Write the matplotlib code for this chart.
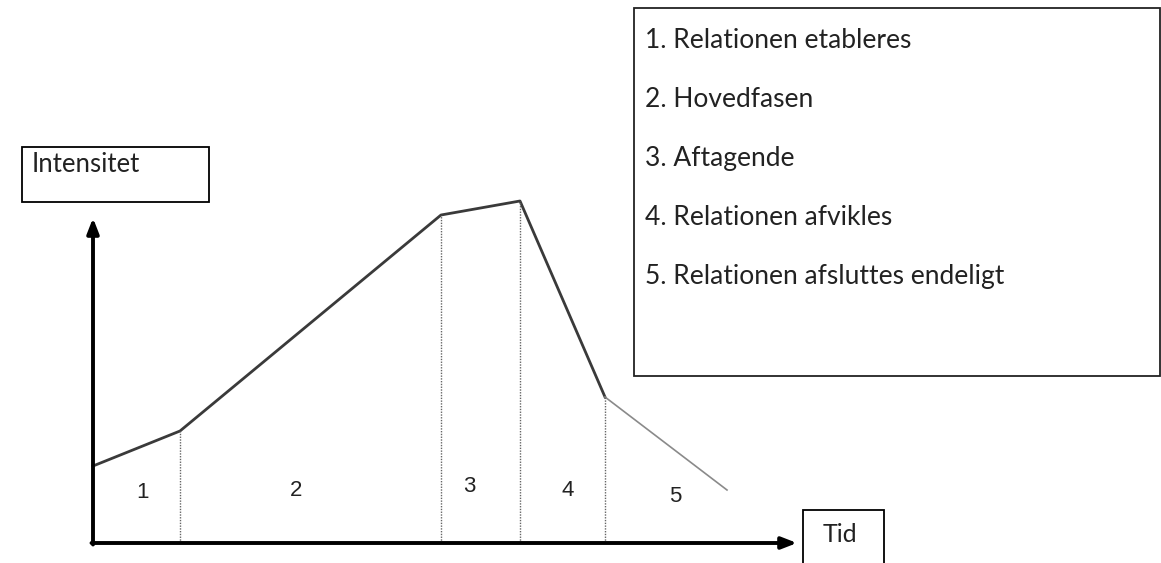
import matplotlib.pyplot as plt
from matplotlib.patches import Rectangle

# phase model: time vs intensity (units relative to the axis origin)
time = [0, 87, 348, 427, 512, 634]
intensity = [77, 112, 328, 342, 146, 53]
phase_labels = ["1", "2", "3", "4", "5"]
label_time = [50, 203, 376, 475, 582]
label_height = [50, 53, 56, 53, 46]
legend_items = ["1. Relationen etableres", "2. Hovedfasen", "3. Aftagende",
                "4. Relationen afvikles", "5. Relationen afsluttes endeligt"]

fig = plt.figure(figsize=(11.61, 5.63), dpi=100)
ax = fig.add_axes([0, 0, 1, 1])
ax.set_xlim(-93, 1068)
ax.set_ylim(-20, 543)
ax.axis("off")

# axes arrows
ax.annotate("", xy=(0, 325), xytext=(0, -1.5),
            arrowprops=dict(arrowstyle="-|>,head_length=0.9,head_width=0.35", lw=2.8, color="black",
                            shrinkA=0, shrinkB=0))
ax.annotate("", xy=(704, 0), xytext=(-1.5, 0),
            arrowprops=dict(arrowstyle="-|>,head_length=0.9,head_width=0.35", lw=2.8, color="black",
                            shrinkA=0, shrinkB=0))

# curve (last phase lighter)
ax.plot(time[:-1], intensity[:-1], color="#3a3a3a", lw=2)
ax.plot(time[-2:], intensity[-2:], color="#8a8a8a", lw=1.2)

# dotted phase dividers
for t, v in zip(time[1:-1], intensity[1:-1]):
    ax.plot([t, t], [0, v], color="#666666", lw=1, ls=(0, (1, 1)))

for lab, t, h in zip(phase_labels, label_time, label_height):
    ax.text(t, h, lab, ha="center", va="center", fontsize=16, family="Liberation Sans", color="#222222")

# label boxes
ax.add_patch(Rectangle((-71, 341), 187, 55, fill=False, lw=1.3, ec="black"))
ax.text(-61, 378, "Intensitet", ha="left", va="center", fontsize=18.5, family="Lato", color="#222222")
ax.add_patch(Rectangle((710, -21), 81, 54, fill=False, lw=1.3, ec="black"))
ax.text(730, 8, "Tid", ha="left", va="center", fontsize=18, family="Lato", color="#222222")

# legend box
ax.add_patch(Rectangle((541, 167), 526, 368, fill=False, lw=1.3, ec="#222222"))
for i, item in enumerate(legend_items):
    ax.text(552, 503 - i * 59.2, item, ha="left", va="center", fontsize=19, family="Lato", color="#222222")

fig.savefig("out.png", dpi=100)
